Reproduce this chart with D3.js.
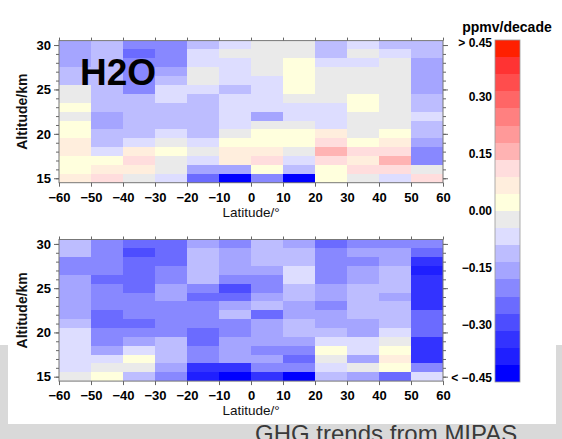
<!DOCTYPE html>
<html><head><meta charset="utf-8">
<script src="https://cdn.jsdelivr.net/npm/d3@7"></script>
<style>body{margin:0;background:#fff;} svg{display:block;}</style>
</head><body>
<svg id="chart" width="562" height="439"></svg>
<script>
const latitudes = [-55,-45,-35,-25,-15,-5,5,15,25,35,45,55];
const altitudes = [30,29,28,27,26,25,24,23,22,21,20,19,18,17,16,15];
const xTicks = [-60,-50,-40,-30,-20,-10,0,10,20,30,40,50,60];
const yTicks = [15,20,25,30];
const colorbarTicks = [0.45,0.30,0.15,0.00,-0.15,-0.30,-0.45];
const colorbarLabels = ["> 0.45","0.30","0.15","0.00","\u22120.15","\u22120.30","< \u22120.45"];
const palette = ["#0000ff","#1f1fff","#3333ff","#4d4dff","#6b6bff","#8888ff","#a5a5ff","#bdbdff","#ddddff","#eaeaea",
                 "#ffffdd","#ffeedd","#ffdddd","#ffb3b3","#ff9999","#ff8080","#ff6666","#ff4d4d","#ff3333","#ff2000"];

// rows: altitude 30 km (first) down to 15 km (last); columns: latitude bins -55 ... 55
const trendTop = [
  [-0.16,-0.11,-0.20,-0.20,-0.11,-0.07,-0.02,-0.02,-0.11,-0.07,-0.11,-0.11],
  [-0.16,-0.11,-0.25,-0.20,-0.07,-0.02,-0.02,-0.02,-0.11,-0.02,-0.07,-0.11],
  [-0.16,-0.11,-0.20,-0.20,-0.07,-0.07,-0.02, 0.02,-0.07,-0.07,-0.02,-0.16],
  [-0.11,-0.11,-0.20,-0.16,-0.02,-0.07,-0.02, 0.02,-0.02,-0.02,-0.02,-0.16],
  [-0.11,-0.11,-0.20,-0.11,-0.02,-0.07,-0.07, 0.02,-0.02,-0.02,-0.02,-0.16],
  [-0.02,-0.11,-0.20,-0.07,-0.07,-0.11,-0.07, 0.02,-0.02,-0.02,-0.02,-0.16],
  [-0.02,-0.11,-0.11,-0.07,-0.11,-0.07,-0.07,-0.02,-0.02, 0.02,-0.02,-0.11],
  [ 0.02,-0.11,-0.11,-0.11,-0.11,-0.07,-0.07,-0.07,-0.07, 0.02,-0.02,-0.11],
  [-0.02,-0.16,-0.11,-0.11,-0.11,-0.07,-0.16,-0.07,-0.07,-0.02,-0.02,-0.07],
  [ 0.02,-0.16,-0.11,-0.11,-0.11,-0.07,-0.02,-0.02,-0.07,-0.02,-0.02,-0.11],
  [ 0.02,-0.11,-0.11,-0.07,-0.11,-0.02, 0.02, 0.02, 0.07,-0.02, 0.02,-0.11],
  [ 0.07,-0.11,-0.07,-0.02,-0.07, 0.02, 0.02, 0.02, 0.11, 0.02, 0.07,-0.16],
  [ 0.07,-0.07, 0.07, 0.02,-0.02, 0.07, 0.07,-0.02, 0.16, 0.11, 0.11,-0.20],
  [ 0.02, 0.02, 0.11,-0.02,-0.07, 0.07, 0.11,-0.07, 0.11, 0.07, 0.16,-0.20],
  [ 0.02, 0.07, 0.07,-0.02,-0.16,-0.16, 0.02,-0.11, 0.02, 0.11, 0.11,-0.02],
  [ 0.07, 0.11,-0.02,-0.07,-0.25,-0.43,-0.20,-0.43, 0.02,-0.02,-0.07, 0.11]
];
const trendBottom = [
  [-0.11,-0.20,-0.25,-0.25,-0.16,-0.20,-0.11,-0.16,-0.25,-0.20,-0.20,-0.20],
  [-0.11,-0.20,-0.29,-0.25,-0.11,-0.16,-0.11,-0.11,-0.20,-0.16,-0.16,-0.25],
  [-0.20,-0.20,-0.25,-0.25,-0.11,-0.16,-0.11,-0.11,-0.20,-0.20,-0.16,-0.34],
  [-0.20,-0.20,-0.25,-0.20,-0.11,-0.16,-0.16,-0.07,-0.20,-0.16,-0.11,-0.38],
  [-0.16,-0.25,-0.25,-0.20,-0.11,-0.20,-0.20,-0.07,-0.20,-0.16,-0.11,-0.34],
  [-0.16,-0.20,-0.25,-0.16,-0.20,-0.29,-0.20,-0.11,-0.16,-0.11,-0.11,-0.34],
  [-0.16,-0.20,-0.20,-0.16,-0.25,-0.25,-0.16,-0.11,-0.16,-0.11,-0.16,-0.34],
  [-0.16,-0.20,-0.20,-0.20,-0.20,-0.16,-0.11,-0.16,-0.20,-0.11,-0.11,-0.34],
  [-0.16,-0.25,-0.20,-0.20,-0.20,-0.11,-0.25,-0.16,-0.16,-0.11,-0.11,-0.25],
  [-0.11,-0.25,-0.25,-0.20,-0.20,-0.20,-0.16,-0.11,-0.16,-0.16,-0.11,-0.25],
  [-0.07,-0.20,-0.20,-0.20,-0.25,-0.20,-0.16,-0.11,-0.11,-0.16,-0.07,-0.25],
  [-0.07,-0.20,-0.16,-0.11,-0.25,-0.16,-0.16,-0.16,-0.07,-0.07,-0.02,-0.34],
  [-0.07,-0.16,-0.07,-0.11,-0.20,-0.16,-0.20,-0.20, 0.02,-0.07, 0.02,-0.34],
  [-0.07,-0.07, 0.02,-0.11,-0.20,-0.16,-0.16,-0.25,-0.02,-0.16, 0.07,-0.34],
  [-0.07,-0.02,-0.02,-0.16,-0.34,-0.34,-0.20,-0.20,-0.07,-0.02, 0.02,-0.20],
  [-0.02, 0.02,-0.11,-0.20,-0.38,-0.43,-0.34,-0.43,-0.11,-0.16,-0.25,-0.07]
];

const FONT = "'Liberation Sans', Arial, Helvetica, sans-serif";
const svg = d3.select("#chart");

// slide background
svg.append("rect").attr("x",0).attr("y",345).attr("width",562).attr("height",94).attr("fill","#d9d9d9");
svg.append("rect").attr("x",8).attr("y",0).attr("width",548).attr("height",424).attr("fill","#ffffff");
svg.append("text").attr("x",255).attr("y",442).attr("font-family",FONT).attr("font-size",24)
  .attr("fill","#3a3a3a").text("GHG trends from MIPAS");

const color = d3.scaleQuantize().domain([-0.45,0.45]).range(palette);
const x = d3.scaleLinear().domain([-60,60]).range([59,443]);
const fmt = d => d < 0 ? "\u2212" + Math.abs(d) : String(d);

function styleAxis(g){
  g.select(".domain").remove();
  g.selectAll("line").attr("stroke","#666");
  g.selectAll("text").attr("font-family",FONT).attr("font-size",13).attr("font-weight","bold").attr("fill","#000");
}

function panel(data, yRange, label){
  const y = d3.scaleLinear().domain([14.5,30.5]).range(yRange);
  const g = svg.append("g");
  const cells = [];
  data.forEach((row,i) => row.forEach((v,j) => cells.push({alt:altitudes[i], lat:latitudes[j], v})));
  g.selectAll("rect.cell").data(cells).join("rect").attr("class","cell")
    .attr("x", d => x(d.lat-5)).attr("width", d => x(d.lat+5)-x(d.lat-5))
    .attr("y", d => y(d.alt+0.5)).attr("height", d => y(d.alt-0.5)-y(d.alt+0.5))
    .attr("fill", d => color(d.v)).attr("shape-rendering","crispEdges");
  const [yb, yt] = yRange;
  g.append("rect").attr("x",x(-60)).attr("y",yt).attr("width",x(60)-x(-60)).attr("height",yb-yt)
    .attr("fill","none").attr("stroke","#777").attr("stroke-width",1);
  g.append("g").attr("transform",`translate(0,${yb})`)
    .call(d3.axisBottom(x).tickValues(xTicks).tickSize(4).tickPadding(6).tickFormat(fmt)).call(styleAxis);
  g.append("g").attr("transform",`translate(0,${yt})`)
    .call(d3.axisTop(x).tickValues(xTicks).tickSize(3).tickFormat("")).call(styleAxis);
  g.append("g").attr("transform",`translate(${x(-60)},0)`)
    .call(d3.axisLeft(y).tickValues(altitudes).tickSize(3).tickFormat("")).call(styleAxis);
  g.append("g").attr("transform",`translate(${x(-60)},0)`)
    .call(d3.axisLeft(y).tickValues(yTicks).tickSize(5).tickPadding(3).tickFormat(d3.format("d"))).call(styleAxis);
  g.append("g").attr("transform",`translate(${x(60)},0)`)
    .call(d3.axisRight(y).tickValues(altitudes).tickSize(3).tickFormat("")).call(styleAxis);
  g.append("g").attr("transform",`translate(${x(60)},0)`)
    .call(d3.axisRight(y).tickValues(yTicks).tickSize(5).tickFormat("")).call(styleAxis);
  g.append("text").attr("x",(x(-60)+x(60))/2).attr("y",yb+34).attr("text-anchor","middle")
    .attr("font-family",FONT).attr("font-size",13.5).attr("fill","#111").text("Latitude/\u00b0");
  const cy = (yb+yt)/2;
  g.append("text").attr("transform",`translate(27,${cy}) rotate(-90)`).attr("text-anchor","middle")
    .attr("font-family",FONT).attr("font-size",14).attr("font-weight","bold").attr("fill","#111").text("Altitude/km");
  if (label){
    g.append("text").attr("x",80).attr("y",yt+44.5).attr("font-family",FONT).attr("font-size",37)
      .attr("font-weight","bold").attr("fill","#000").text(label);
  }
}

panel(trendTop, [182.7, 40.6], "H2O");
panel(trendBottom, [381.1, 239.5], null);

// colorbar
const cb = d3.scaleLinear().domain([-0.45,0.45]).range([382,40]);
const step = 0.9 / palette.length;
const cbG = svg.append("g");
cbG.selectAll("rect").data(palette).join("rect")
  .attr("x",495).attr("width",25)
  .attr("y",(c,i) => cb(-0.45+step*(i+1))).attr("height",(c,i) => cb(-0.45+step*i)-cb(-0.45+step*(i+1)))
  .attr("fill", c => c).attr("shape-rendering","crispEdges");
cbG.append("rect").attr("x",495).attr("y",cb(0.45)).attr("width",25).attr("height",cb(-0.45)-cb(0.45))
  .attr("fill","none").attr("stroke","#999").attr("stroke-width",0.8);
cbG.selectAll("text.lab").data(colorbarTicks).join("text").attr("class","lab")
  .attr("x",492).attr("y",(d,i) => cb(d) + (i===0 ? 3 : (i===colorbarTicks.length-1 ? -4 : 0)))
  .attr("dy","0.35em").attr("text-anchor","end")
  .attr("font-family",FONT).attr("font-size",12).attr("font-weight","bold").attr("fill","#000")
  .text((d,i) => colorbarLabels[i]);
cbG.append("text").attr("x",507).attr("y",32).attr("text-anchor","middle")
  .attr("font-family",FONT).attr("font-size",14).attr("font-weight","bold").attr("fill","#000").text("ppmv/decade");
</script>
</body></html>
